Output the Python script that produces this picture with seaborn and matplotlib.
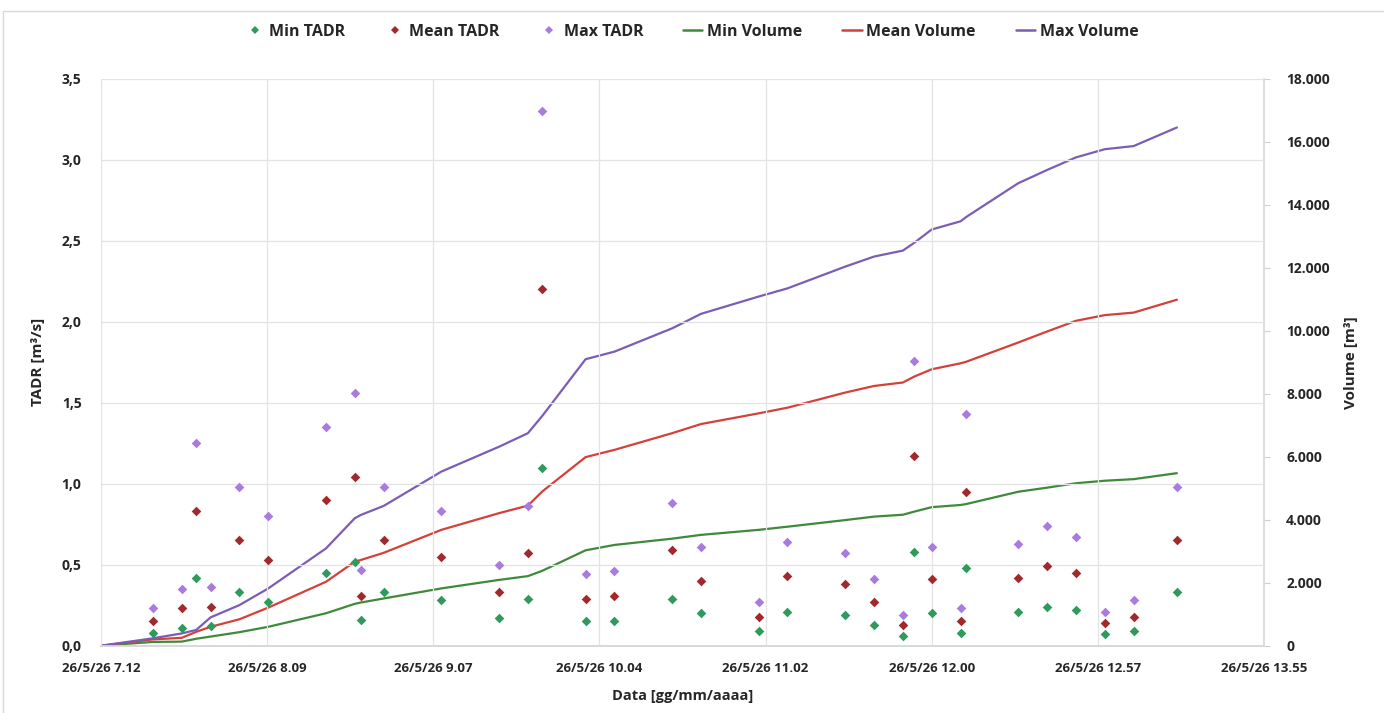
import matplotlib
matplotlib.use("Agg")
import matplotlib.pyplot as plt
from matplotlib.lines import Line2D
from matplotlib.patches import Rectangle
import seaborn as sns
import pandas as pd

# ---- data -------------------------------------------------------------
day = "2026-05-26"
sample_times = ["07:30", "07:40", "07:45", "07:50", "08:00", "08:10", "08:30",
                "08:40", "08:42", "08:50", "09:10", "09:30", "09:40", "09:45",
                "10:00", "10:10", "10:30", "10:40", "11:00", "11:10", "11:30",
                "11:40", "11:50", "11:54", "12:00", "12:10", "12:12", "12:30",
                "12:40", "12:50", "13:00", "13:10", "13:25"]

min_tadr = [0.08, 0.11, 0.42, 0.12, 0.33, 0.27, 0.45, 0.52, 0.16, 0.33, 0.28,
            0.17, 0.29, 1.10, 0.15, 0.15, 0.29, 0.20, 0.09, 0.21, 0.19, 0.13,
            0.06, 0.58, 0.20, 0.08, 0.48, 0.21, 0.24, 0.22, 0.07, 0.09, 0.33]
mean_tadr = [0.15, 0.23, 0.83, 0.24, 0.65, 0.53, 0.90, 1.04, 0.31, 0.65, 0.55,
             0.33, 0.57, 2.20, 0.29, 0.31, 0.59, 0.40, 0.18, 0.43, 0.38, 0.27,
             0.13, 1.17, 0.41, 0.15, 0.95, 0.42, 0.49, 0.45, 0.14, 0.18, 0.65]
max_tadr = [0.23, 0.35, 1.25, 0.36, 0.98, 0.80, 1.35, 1.56, 0.47, 0.98, 0.83,
            0.50, 0.86, 3.30, 0.44, 0.46, 0.88, 0.61, 0.27, 0.64, 0.57, 0.41,
            0.19, 1.76, 0.61, 0.23, 1.43, 0.63, 0.74, 0.67, 0.21, 0.28, 0.98]

volume_times = ["07:12"] + sample_times
min_volume = [0, 120, 130, 220, 290, 430, 600, 1030, 1330, 1370, 1500, 1820,
              2090, 2210, 2380, 3030, 3200, 3400, 3520, 3680, 3780, 3990, 4100,
              4160, 4260, 4400, 4470, 4500, 4890, 5020, 5160, 5240, 5290, 5480]
mean_volume = [0, 200, 250, 440, 600, 840, 1210, 2030, 2670, 2720, 2950, 3680,
               4210, 4450, 4900, 5990, 6220, 6750, 7040, 7380, 7560, 8040, 8250,
               8360, 8550, 8780, 8970, 9020, 9630, 9980, 10320, 10500, 10580,
               10990]
max_volume = [0, 235, 390, 500, 900, 1290, 1820, 3090, 4050, 4150, 4440, 5530,
              6320, 6750, 7300, 9100, 9340, 10080, 10540, 11090, 11350, 12040,
              12360, 12550, 12800, 13220, 13480, 13620, 14690, 15110, 15510,
              15770, 15870, 16460]

y_left_ticks = [0.0, 0.5, 1.0, 1.5, 2.0, 2.5, 3.0, 3.5]
y_right_ticks = [0, 2000, 4000, 6000, 8000, 10000, 12000, 14000, 16000, 18000]
x_start, x_step_min, x_n = "07:12", 57.6, 8

# ---- frames -----------------------------------------------------------
tadr = pd.DataFrame({
    "time": pd.to_datetime([f"{day} {t}" for t in sample_times]),
    "Min TADR": min_tadr, "Mean TADR": mean_tadr, "Max TADR": max_tadr,
})
vol = pd.DataFrame({
    "time": pd.to_datetime([f"{day} {t}" for t in volume_times]),
    "Min Volume": min_volume, "Mean Volume": mean_volume, "Max Volume": max_volume,
})

marker_colors = {"Min TADR": "#2e9b5c", "Mean TADR": "#a1282b", "Max TADR": "#a97be0"}
line_colors = {"Min Volume": "#3f8a3a", "Mean Volume": "#d3413a", "Max Volume": "#7b5db5"}

sns.set_theme(style="white")
plt.rcParams["font.family"] = ["Open Sans", "DejaVu Sans"]
text_color = "#262626"
grid_color = "#e3e3e3"

fig = plt.figure(figsize=(13.84, 7.13), dpi=100)
ax = fig.add_axes([101 / 1384, 1 - 645.7 / 713, (1264 - 101) / 1384, (645.7 - 79) / 713])
ax2 = ax.twinx()

# chart-area border
fig.patches.append(Rectangle((3 / 1384, -0.02), 1.0, 1.02 - 11 / 713,
                             transform=fig.transFigure, fill=False,
                             edgecolor="#d9d9d9", linewidth=1.0, zorder=0))

# volume lines on the secondary axis
for name, col in line_colors.items():
    sns.lineplot(data=vol, x="time", y=name, ax=ax2, color=col, linewidth=1.6,
                 legend=False, zorder=3)

# TADR markers on the primary axis
for name, col in marker_colors.items():
    sns.scatterplot(data=tadr, x="time", y=name, ax=ax, color=col, marker="D",
                    s=24, linewidth=0, legend=False, zorder=4)

# put primary axis (markers) above the twin
ax.set_zorder(ax2.get_zorder() + 1)
ax.patch.set_visible(False)

# x axis
t0 = pd.Timestamp(f"{day} {x_start}")
xticks = [t0 + pd.Timedelta(minutes=x_step_min * k) for k in range(x_n)]
ax.set_xlim(xticks[0], xticks[-1])
ax.set_xticks(xticks)
ax.set_xticklabels([f"{t.day}/{t.month}/{t.strftime('%y')} {t.hour}.{t.minute:02d}" for t in xticks])
ax.set_xlabel("Data [gg/mm/aaaa]", fontsize=10.5, fontweight="bold", color=text_color, labelpad=10)

# left axis
ax.set_ylim(0, 3.5)
ax.set_yticks(y_left_ticks)
ax.set_yticklabels([f"{v:.1f}".replace(".", ",") for v in y_left_ticks])
ax.set_ylabel("TADR [m³/s]", fontsize=11, fontweight="bold", color=text_color, labelpad=12)

# right axis
ax2.set_ylim(0, 18000)
ax2.set_yticks(y_right_ticks)
ax2.set_yticklabels([f"{v:,}".replace(",", ".") for v in y_right_ticks])
ax2.set_ylabel("Volume [m³]", fontsize=11, fontweight="bold", color=text_color, labelpad=10)

ax.grid(True, axis="both", color=grid_color, linewidth=0.9)
ax.set_axisbelow(True)
ax2.grid(False)

ax.tick_params(axis="x", length=0, pad=12, labelsize=9.5, labelcolor=text_color)
ax.tick_params(axis="y", length=0, pad=14, labelsize=10, labelcolor=text_color)
ax2.tick_params(axis="y", length=4, width=0.8, color="#d0d0d0", pad=12,
                labelsize=10, labelcolor=text_color)
for lab in ax.get_xticklabels() + ax.get_yticklabels() + ax2.get_yticklabels():
    lab.set_fontweight("bold")

for a in (ax, ax2):
    for side in ("top", "left"):
        a.spines[side].set_visible(False)
    a.spines["bottom"].set_color("#d9d9d9")
    a.spines["right"].set_color("#d9d9d9")
ax.spines["right"].set_visible(False)

# legend
handles = [Line2D([], [], linestyle="none", marker="D", markersize=4,
                  markerfacecolor=c, markeredgewidth=0) for c in marker_colors.values()]
handles += [Line2D([], [], color=c, linewidth=1.8) for c in line_colors.values()]
labels = list(marker_colors) + list(line_colors)
leg = fig.legend(handles, labels, loc="center", bbox_to_anchor=(0.5, 1 - 32 / 713),
                 ncol=6, frameon=False, handlelength=1.2, handletextpad=0.3,
                 columnspacing=2.5, prop={"size": 11.5, "weight": "bold"})
for t in leg.get_texts():
    t.set_color(text_color)

fig.savefig("out.png", dpi=100)
